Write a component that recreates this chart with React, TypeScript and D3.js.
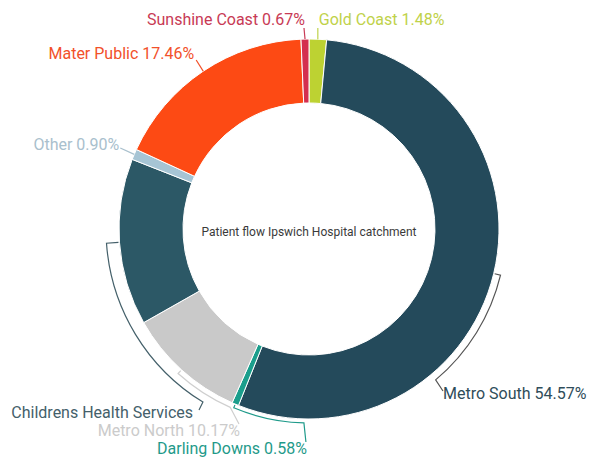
import React from "react";
import * as d3 from "d3";

const categories = [
  "Gold Coast",
  "Metro South",
  "Darling Downs",
  "Metro North",
  "Childrens Health Services",
  "Other",
  "Mater Public",
  "Sunshine Coast",
];
const values = [1.48, 54.57, 0.58, 10.17, 14.17, 0.9, 17.46, 0.67];
const showValue = [true, true, true, true, false, true, true, true];
const sliceColors = ["#bdd232", "#244a5b", "#1a9e8c", "#c9c9c9", "#2c5866", "#a6c4d4", "#fd4a14", "#d42f4f"];
const labelColors = ["#bfd24a", "#2f4d5a", "#1f9a8a", "#cbcbcb", "#44606a", "#a9c0cd", "#f2512a", "#c83a55"];
const lineColors = ["#bfd24a", "#555555", "#1f9a8a", "#cfcfcf", "#44606a", "#a9c0cd", "#f2512a", "#c83a55"];
const centerTitle = "Patient flow Ipswich Hospital catchment";

const W = 593;
const H = 458;
const cx = 309;
const cy = 229;
const R = 190;
const r0 = 126;

const deg = Math.PI / 180;
const pt = (a: number, rad: number): [number, number] => [cx + rad * Math.sin(a), cy - rad * Math.cos(a)];

function bracket(a0: number, a1: number, rad: number, end: [number, number]) {
  const s = pt(a0, R + 1);
  const p0 = pt(a0, rad);
  const p1 = pt(a1, rad);
  const sweep = a1 > a0 ? 1 : 0;
  return `M${s[0]},${s[1]}L${p0[0]},${p0[1]}A${rad},${rad} 0 0 ${sweep} ${p1[0]},${p1[1]}L${end[0]},${end[1]}`;
}

export default function App() {
  const pie = d3.pie<number>().sort(null).value((d) => d).startAngle(0).endAngle(2 * Math.PI);
  const arcs = pie(values);
  const arcGen = d3.arc<d3.PieArcDatum<number>>().innerRadius(r0).outerRadius(R);

  const labels = arcs.map((a, i) => {
    const mid = (a.startAngle + a.endAngle) / 2;
    const name = categories[i];
    const text = showValue[i] ? `${name} ${values[i].toFixed(2)}%` : name;
    let path = "";
    let tx = 0;
    let ty = 0;
    let anchor: "start" | "end" = "end";
    const m = pt(mid, R);
    switch (name) {
      case "Gold Coast":
        path = `M${m[0]},${m[1]}L${m[0]},28`;
        tx = m[0] + 1; ty = 25; anchor = "start";
        break;
      case "Sunshine Coast":
        path = `M${m[0]},${m[1]}L${m[0] - 1},28`;
        tx = m[0]; ty = 25; anchor = "end";
        break;
      case "Mater Public":
        path = `M${m[0]},${m[1]}L${m[0] - 7},60`;
        tx = m[0] - 9; ty = 59; anchor = "end";
        break;
      case "Other":
        path = `M${m[0]},${m[1]}L${m[0] - 14},148`;
        tx = m[0] - 15; ty = 150; anchor = "end";
        break;
      case "Metro South":
        path = bracket(mid, 140 * deg, R + 7, [443, 391]);
        tx = 443; ty = 399; anchor = "start";
        break;
      case "Darling Downs": {
        const e = pt(181.5 * deg, R + 4);
        path = bracket(mid, 181.5 * deg, R + 4, [e[0] + 2, 442]);
        tx = e[0] + 3; ty = 454; anchor = "end";
        break;
      }
      case "Metro North":
        path = bracket(mid, 203.8 * deg, R + 5, [239, 424]);
        tx = 240; ty = 436; anchor = "end";
        break;
      case "Childrens Health Services":
        path = bracket(mid, 211.5 * deg, R + 13, [199, 410]);
        tx = 193; ty = 418; anchor = "end";
        break;
    }
    return { text, path, tx, ty, anchor, i };
  });

  return (
    <svg
      width={W}
      height={H}
      style={{ position: "absolute", left: 0, top: 0, background: "#fff" }}
      fontFamily="Roboto, 'Noto Sans', sans-serif"
    >
      <g transform={`translate(${cx},${cy})`}>
        {arcs.map((a, i) => (
          <path key={i} d={arcGen(a) || ""} fill={sliceColors[i]} stroke="#fff" strokeWidth={1} />
        ))}
      </g>
      {labels.map((l) => (
        <path key={"l" + l.i} d={l.path} fill="none" stroke={lineColors[l.i]} strokeWidth={1.2} />
      ))}
      {labels.map((l) => (
        <text key={"t" + l.i} x={l.tx} y={l.ty} textAnchor={l.anchor} fontSize={16} fill={labelColors[l.i]}>
          {l.text}
        </text>
      ))}
      <text x={cx} y={236} textAnchor="middle" fontSize={12} fontWeight={400} fill="#3a3a3a">
        {centerTitle}
      </text>
    </svg>
  );
}
